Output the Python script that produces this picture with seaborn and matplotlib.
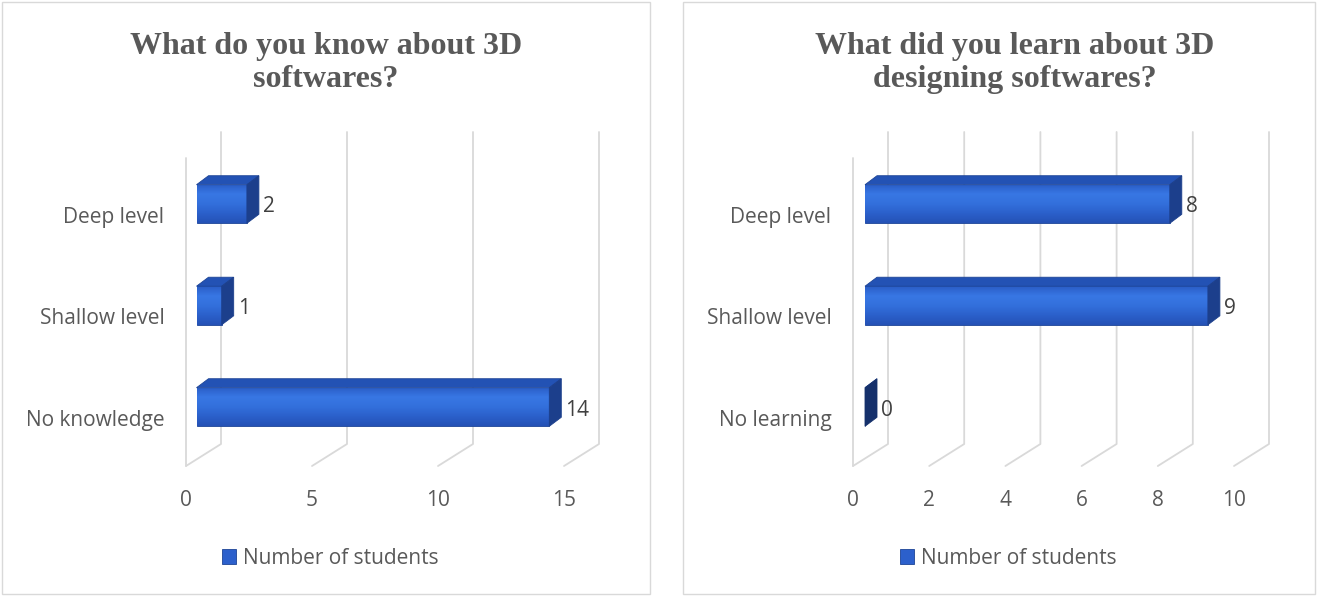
import numpy as np
import pandas as pd
import matplotlib
matplotlib.use("Agg")
import matplotlib.pyplot as plt
import seaborn as sns
from matplotlib.patches import Polygon, Rectangle
from matplotlib.lines import Line2D
from matplotlib.transforms import ScaledTranslation
from matplotlib.colors import LinearSegmentedColormap

# ---------------- data ----------------
left_title = "What do you know about 3D\nsoftwares?"
left_categories = ["Deep level", "Shallow level", "No knowledge"]
left_values = [2, 1, 14]
left_ticks = [0, 5, 10, 15]

right_title = "What did you learn about 3D\ndesigning softwares?"
right_categories = ["Deep level", "Shallow level", "No learning"]
right_values = [8, 9, 0]
right_ticks = [0, 2, 4, 6, 8, 10]

series_name = "Number of students"

# ---------------- style ----------------
W, H = 1317, 596
DPI = 100
sns.set_theme(style="white")
plt.rcParams["font.family"] = ["Open Sans", "DejaVu Sans"]

FRONT = "#2c60cc"
TOP = "#2352b4"
SIDE = "#1c3f8c"
EDGE = "#1d4496"
GRID = "#d9d9d9"
TXT = "#595959"
VAL = "#404040"
FS = 15

face_cmap = LinearSegmentedColormap.from_list(
    "face", ["#2a5dc6", "#3877e4", "#3370dc", "#2b60cb", "#2552b6"])
grad = np.linspace(0, 1, 64).reshape(-1, 1)

fig = plt.figure(figsize=(W / DPI, H / DPI), dpi=DPI)
fig.patch.set_facecolor("white")


def fx(x):
    return x / W


def fy(y):
    return 1 - y / H


to_fig = fig.transFigure.inverted()


def disp2fig(pts):
    return to_fig.transform(np.asarray(pts, dtype=float))


def panel(box, title, title_cx, cats, vals, ticks, x0px, x1px, legend_cx,
          bar_off, floor_y=466, top_y=158, back_top_y=132, cat0=215, step=101.5,
          depth=(35, 22), bdepth=(12, 9)):
    bx0, by0, bx1, by1 = box
    fig.patches.append(Rectangle((fx(bx0), fy(by1)), (bx1 - bx0) / W, (by1 - by0) / H,
                                 transform=fig.transFigure, fill=False,
                                 edgecolor=GRID, lw=1))
    fig.text(fx(title_cx), fy(63), title, ha="center", va="center",
             family=["Liberation Serif"], weight="bold", fontsize=23,
             color=TXT, linespacing=1.2)

    ax = fig.add_axes([fx(x0px), fy(floor_y), (x1px - x0px) / W, (floor_y - top_y) / H])
    df = pd.DataFrame({"cat": cats, "val": vals})
    sns.barplot(data=df, y="cat", x="val", orient="h", color=FRONT, saturation=1,
                width=0.38, ax=ax, label=series_name, edgecolor=EDGE, linewidth=0.6)
    ybot = 2 + (floor_y - cat0 - 2 * step) / step
    ytop = -(cat0 - top_y) / step

    def set_lims():
        ax.set_xlim(ticks[0], ticks[-1])
        ax.set_ylim(ybot, ytop)

    set_lims()
    ax.set_xticks(ticks)
    ax.set_xticklabels([str(t) for t in ticks])
    for s in ax.spines.values():
        s.set_visible(False)
    ax.tick_params(axis="y", length=0, pad=15.5, labelsize=FS, labelcolor=TXT)
    ax.tick_params(axis="x", length=0, pad=17, labelsize=FS, labelcolor=TXT)
    ax.set_xlabel("")
    ax.set_ylabel("")
    ax.patch.set_visible(False)

    ox, oy = bar_off
    shift = ScaledTranslation(ox / DPI, oy / DPI, fig.dpi_scale_trans)
    bars = list(ax.patches)
    # gradient fill of front faces
    for p in bars:
        p.set_transform(ax.transData + shift)
        p.set_zorder(3)
        x, y, w, h = p.get_x(), p.get_y(), p.get_width(), p.get_height()
        if w > 0:
            im = ax.imshow(grad, extent=[x, x + w, y + h, y], aspect="auto",
                           cmap=face_cmap, transform=ax.transData + shift,
                           zorder=3.1, interpolation="bilinear")
            im.set_clip_path(p)
    set_lims()

    # 3D wall / floor lines
    dx, dy = depth
    top_disp = (H - top_y)
    back_top_disp = (H - back_top_y)
    for i, t in enumerate(ticks):
        fxp, fyp = ax.transData.transform((t, ybot))
        pts = disp2fig([(fxp, fyp), (fxp + dx, fyp + dy), (fxp + dx, back_top_disp)])
        fig.add_artist(Line2D(pts[:, 0], pts[:, 1], color=GRID, lw=1.3,
                              transform=fig.transFigure, zorder=0))
        if i == 0:
            pts = disp2fig([(fxp, fyp), (fxp, top_disp)])
            fig.add_artist(Line2D(pts[:, 0], pts[:, 1], color=GRID, lw=1.3,
                                  transform=fig.transFigure, zorder=0))

    # 3D bar top and side faces + value labels
    bdx, bdy = bdepth
    for p in bars:
        x, y, w, h = p.get_x(), p.get_y(), p.get_width(), p.get_height()
        (xl, ya), (xr, yb2) = ax.transData.transform([(x, y), (x + w, y + h)])
        xl += ox
        xr += ox
        yt = max(ya, yb2) + oy
        yb = min(ya, yb2) + oy
        top = disp2fig([(xl, yt), (xr, yt), (xr + bdx, yt + bdy), (xl + bdx, yt + bdy)])
        side = disp2fig([(xr, yb), (xr, yt), (xr + bdx, yt + bdy), (xr + bdx, yb + bdy)])
        side_col = SIDE if w > 0 else "#15306b"
        ax.add_patch(Polygon(top, closed=True, facecolor=TOP, edgecolor=EDGE, lw=0.6,
                             transform=fig.transFigure, clip_on=False, zorder=3.2))
        ax.add_patch(Polygon(side, closed=True, facecolor=side_col, edgecolor=side_col, lw=0.6,
                             transform=fig.transFigure, clip_on=False, zorder=3.2))
        lab = disp2fig([(xr + bdx + 4, (yt + yb) / 2 - 3)])[0]
        fig.text(lab[0], lab[1], f"{w:g}", ha="left", va="center", fontsize=FS, color=VAL)

    ax.legend(loc="center", bbox_to_anchor=(fx(legend_cx), fy(558)),
              bbox_transform=fig.transFigure, frameon=False,
              handlelength=0.7, handleheight=0.7, handletextpad=0.3,
              fontsize=FS, labelcolor=TXT)
    return ax


panel((2, 2, 650, 594), left_title, 326, left_categories, left_values, left_ticks,
      186, 564, 330, bar_off=(10.5, 11))
panel((683, 2, 1315, 594), right_title, 1015, right_categories, right_values, right_ticks,
      853, 1234, 1008, bar_off=(12, 11))

fig.savefig("out.png", dpi=DPI, facecolor="white")
